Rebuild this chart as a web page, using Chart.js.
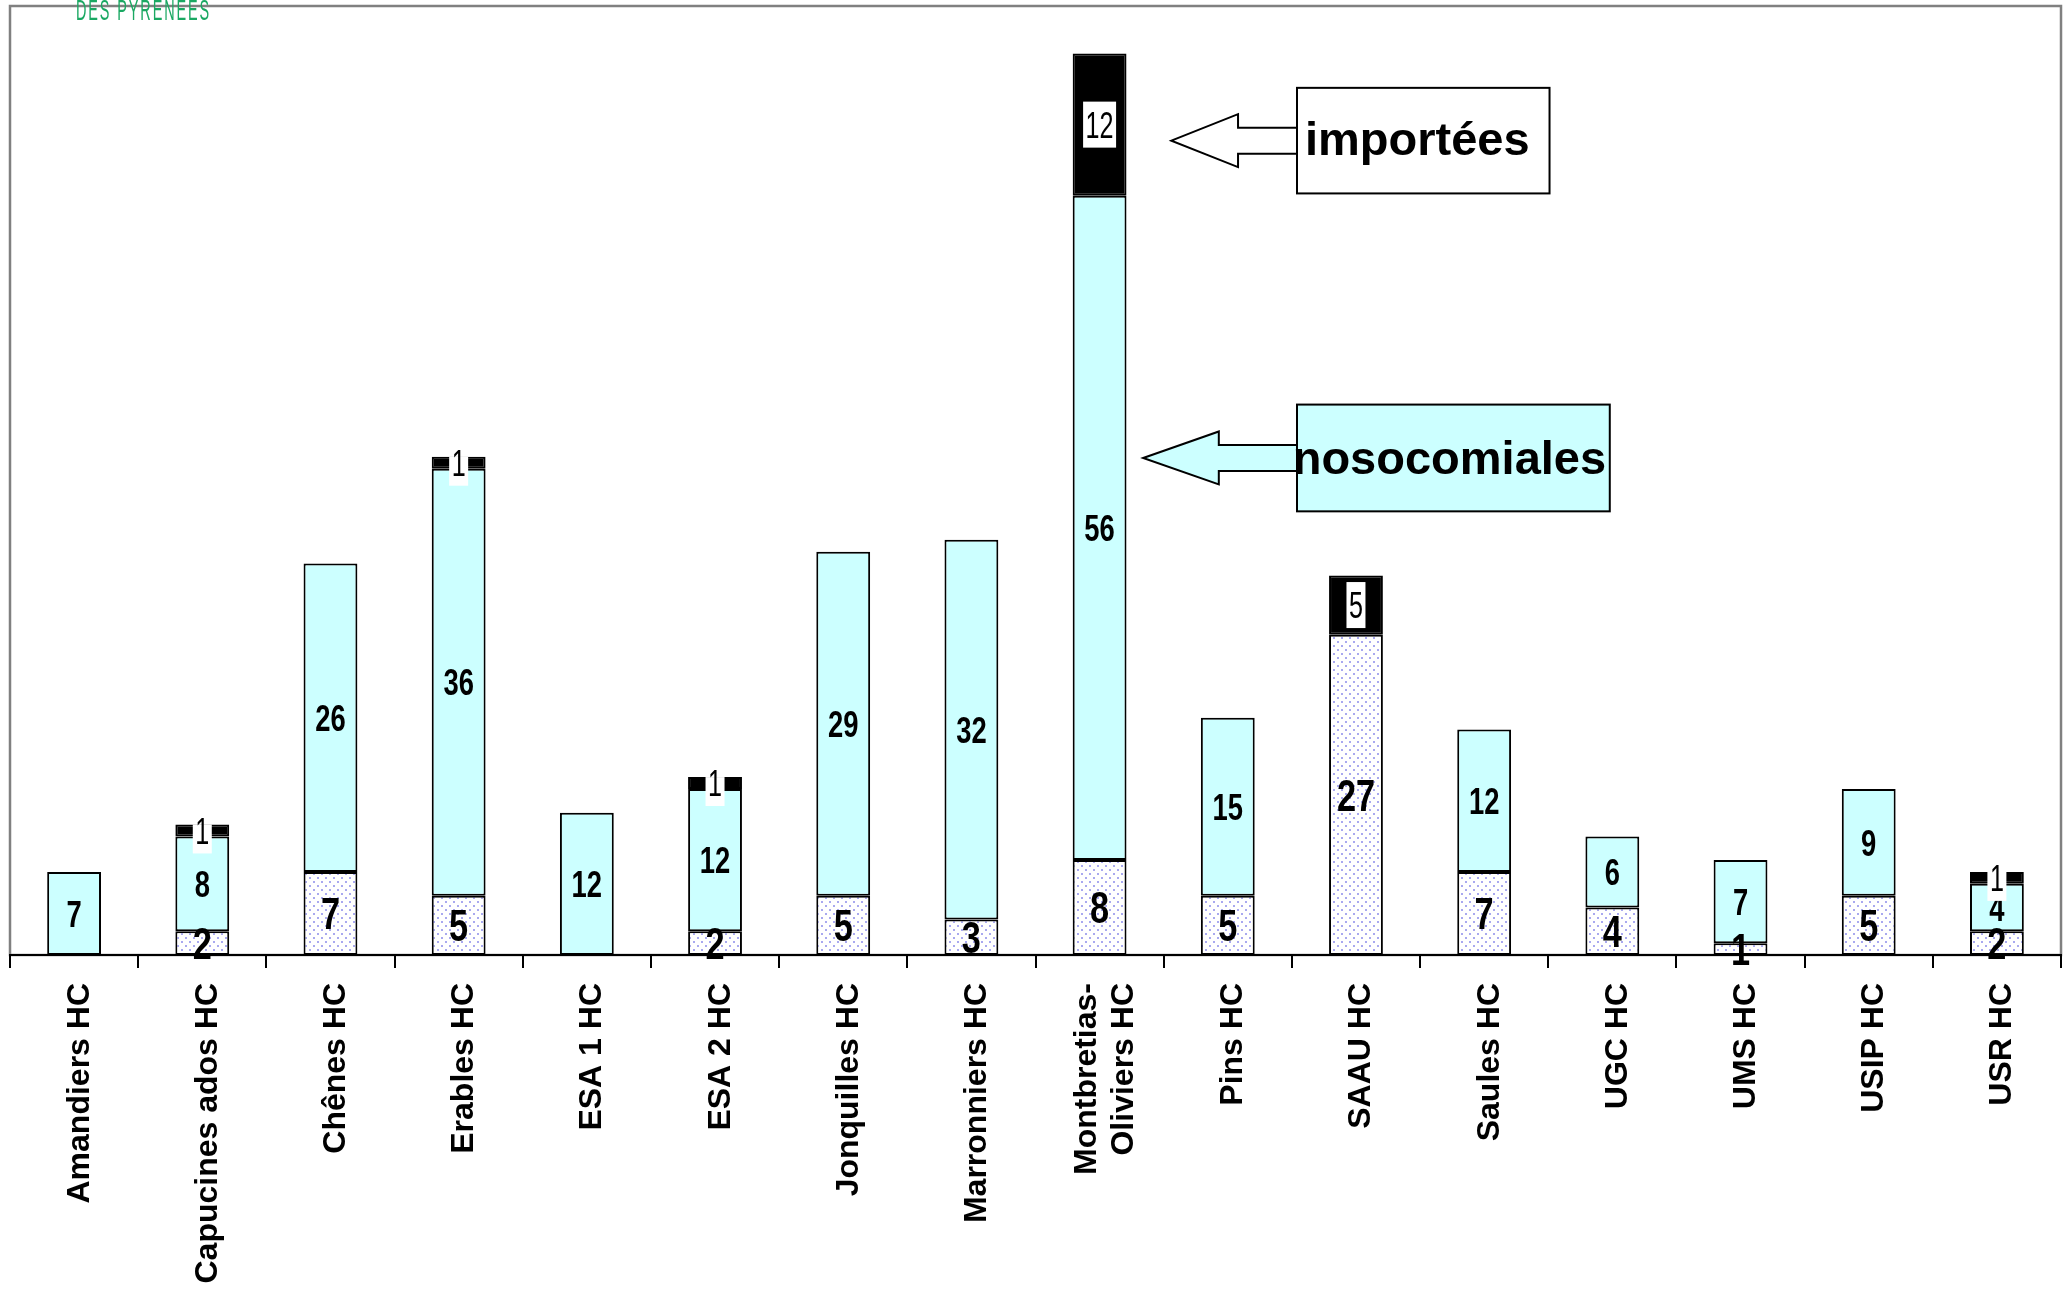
<!DOCTYPE html>
<html lang="fr">
<head>
<meta charset="utf-8">
<title>Infections par unité</title>
<script src="https://cdn.jsdelivr.net/npm/chart.js@4.4.1/dist/chart.umd.min.js"></script>
<style>
  html, body { margin: 0; padding: 0; background: #fff; }
  #wrap { position: relative; width: 2069px; height: 1289px; }
</style>
</head>
<body>
<div id="wrap"><canvas id="chart"></canvas></div>
<script>
// --- données ---
const unites = ['Amandiers HC', 'Capucines ados HC', 'Chênes HC', 'Erables HC', 'ESA 1 HC', 'ESA 2 HC',
  'Jonquilles HC', 'Marronniers HC', ['Montbretias-', 'Oliviers HC'], 'Pins HC', 'SAAU HC', 'Saules HC',
  'UGC HC', 'UMS HC', 'USIP HC', 'USR HC'];
const autres       = [0, 2, 7, 5, 0, 2, 5, 3, 8, 5, 27, 7, 4, 1, 5, 2];
const nosocomiales = [7, 8, 26, 36, 12, 12, 29, 32, 56, 15, 0, 12, 6, 7, 9, 4];
const importees    = [0, 1, 0, 1, 0, 1, 0, 0, 12, 0, 5, 0, 0, 0, 0, 1];
const yMax = 80;

const FONT = "'Liberation Sans', Arial, sans-serif";

// style des étiquettes de valeur, par série (bas -> haut)
const labelStyles = [
  { weight: 'bold', size: 44, sx: 0.78, box: false },
  { weight: 'bold', size: 37, sx: 0.74, box: false },
  { weight: 'normal', size: 37, sx: 0.68, box: true }
];

const canvas = document.getElementById('chart');
const ctx = canvas.getContext('2d');

// trame pointillée de la série du bas
function dotPattern() {
  const c = document.createElement('canvas');
  c.width = 8; c.height = 8;
  const p = c.getContext('2d');
  p.fillStyle = '#ffffff';
  p.fillRect(0, 0, 8, 8);
  p.fillStyle = '#a9a9ef';
  p.fillRect(1, 1, 2, 2);
  p.fillRect(5, 5, 2, 2);
  return ctx.createPattern(c, 'repeat');
}

// cadre gris de la zone de tracé + logo tronqué
const cadre = {
  id: 'cadre',
  beforeDraw(chart) {
    const a = chart.chartArea;
    const c = chart.ctx;
    c.save();
    c.strokeStyle = '#808080';
    c.lineWidth = 2.5;
    c.strokeRect(a.left, a.top, a.right - a.left, a.bottom - a.top);
    // morceau du logo en haut à gauche
    c.translate(76, 20);
    c.scale(0.48, 1);
    c.fillStyle = '#1aa862';
    c.font = '30px ' + FONT;
    c.letterSpacing = '4px';
    c.fillText('DES PYRENEES', 0, 0);
    c.restore();
  }
};

// noms des unités, verticaux, centrés sous chaque catégorie
const nomsUnites = {
  id: 'nomsUnites',
  afterDraw(chart) {
    const c = chart.ctx;
    const xs = chart.scales.x;
    const size = 32, lh = 37;
    c.save();
    c.fillStyle = '#000';
    c.font = 'bold ' + size + 'px ' + FONT;
    c.textAlign = 'right';
    c.textBaseline = 'alphabetic';
    chart.data.labels.forEach((lab, i) => {
      const lines = Array.isArray(lab) ? lab : [lab];
      c.save();
      c.translate(xs.getPixelForTick(i), xs.top + 28);
      c.rotate(-Math.PI / 2);
      lines.forEach((ln, k) => {
        c.fillText(ln, 0, (k - (lines.length - 1) / 2) * lh + size * 0.36 + 3);
      });
      c.restore();
    });
    c.restore();
  }
};

// étiquettes de valeurs centrées dans chaque segment
const etiquettes = {
  id: 'etiquettes',
  afterDatasetsDraw(chart) {
    const c = chart.ctx;
    chart.data.datasets.forEach((ds, i) => {
      const st = labelStyles[i];
      chart.getDatasetMeta(i).data.forEach((bar, j) => {
        const v = ds.data[j];
        if (!v) return;
        const txt = String(v);
        const cy = (bar.y + bar.base) / 2;
        c.save();
        c.font = st.weight + ' ' + st.size + 'px ' + FONT;
        const w = c.measureText(txt).width * st.sx;
        if (st.box) {
          const top = Math.max(cy - 23, bar.y);
          c.fillStyle = '#fff';
          c.fillRect(bar.x - w / 2 - 2.5, top, w + 5, cy + 23 - top);
        }
        c.translate(bar.x, cy + st.size * 0.358);
        c.scale(st.sx, 1);
        c.fillStyle = '#000';
        c.textAlign = 'center';
        c.textBaseline = 'alphabetic';
        c.fillText(txt, 0, 0);
        c.restore();
      });
    });
  }
};

// flèches et cartouches de légende
function blockArrow(c, tipX, tipY, baseX, endX, headH, shaftH, fill) {
  c.beginPath();
  c.moveTo(tipX, tipY);
  c.lineTo(baseX, tipY - headH);
  c.lineTo(baseX, tipY - shaftH);
  c.lineTo(endX, tipY - shaftH);
  c.lineTo(endX, tipY + shaftH);
  c.lineTo(baseX, tipY + shaftH);
  c.lineTo(baseX, tipY + headH);
  c.closePath();
  c.fillStyle = fill;
  c.fill();
  c.stroke();
}

function cartouche(chart, o) {
  const c = chart.ctx;
  const xs = chart.scales.x, ys = chart.scales.y;
  const l = xs.getPixelForValue(o.x0), r = xs.getPixelForValue(o.x1);
  const t = ys.getPixelForValue(o.y0), b = ys.getPixelForValue(o.y1);
  const cy = (t + b) / 2;
  c.save();
  c.strokeStyle = '#000';
  c.lineWidth = 2;
  c.lineJoin = 'miter';
  blockArrow(c, xs.getPixelForValue(o.tip), cy, xs.getPixelForValue(o.head), l, 26.5, 13, o.fill);
  c.fillStyle = o.fill;
  c.fillRect(l, t, r - l, b - t);
  c.strokeRect(l, t, r - l, b - t);
  c.fillStyle = '#000';
  c.font = 'bold 47px ' + FONT;
  c.textAlign = 'center';
  c.textBaseline = 'alphabetic';
  c.fillText(o.text, (l + r) / 2 + o.dx, cy + 47 * o.base);
  c.restore();
}

const legendes = {
  id: 'legendes',
  afterDraw(chart) {
    cartouche(chart, { text: 'importées', fill: '#ffffff', x0: 9.54, x1: 11.51, y0: 73.1, y1: 64.2, tip: 8.56, head: 9.08, base: 0.30, dx: -6 });
    cartouche(chart, { text: 'nosocomiales', fill: '#ccffff', x0: 9.54, x1: 11.98, y0: 46.4, y1: 37.4, tip: 8.34, head: 8.93, base: 0.34, dx: -4 });
  }
};

new Chart(ctx, {
  type: 'bar',
  data: {
    labels: unites,
    datasets: [
      { label: 'autres', data: autres.map(v => v || null), backgroundColor: dotPattern() },
      { label: 'nosocomiales', data: nosocomiales.map(v => v || null), backgroundColor: '#ccffff' },
      { label: 'importées', data: importees.map(v => v || null), backgroundColor: '#000000' }
    ]
  },
  options: {
    responsive: true,
    maintainAspectRatio: false,
    devicePixelRatio: 1,
    animation: false,
    layout: { padding: { left: 10, right: 8, top: 6, bottom: 0 } },
    datasets: {
      bar: {
        barPercentage: 0.42,
        categoryPercentage: 1,
        borderColor: '#000',
        borderWidth: 2,
        borderSkipped: false
      }
    },
    plugins: {
      legend: { display: false },
      tooltip: { enabled: false },
      title: { display: false }
    },
    scales: {
      x: {
        stacked: true,
        afterFit(scale) { scale.height = 334; },
        grid: { offset: true, drawOnChartArea: false, drawTicks: true, tickLength: 13, color: '#000', lineWidth: 2 },
        border: { display: true, color: '#000', width: 2 },
        ticks: { display: false, autoSkip: false }
      },
      y: { stacked: true, display: false, min: 0, max: yMax }
    }
  },
  plugins: [cadre, etiquettes, legendes, nomsUnites]
});
</script>
</body>
</html>
